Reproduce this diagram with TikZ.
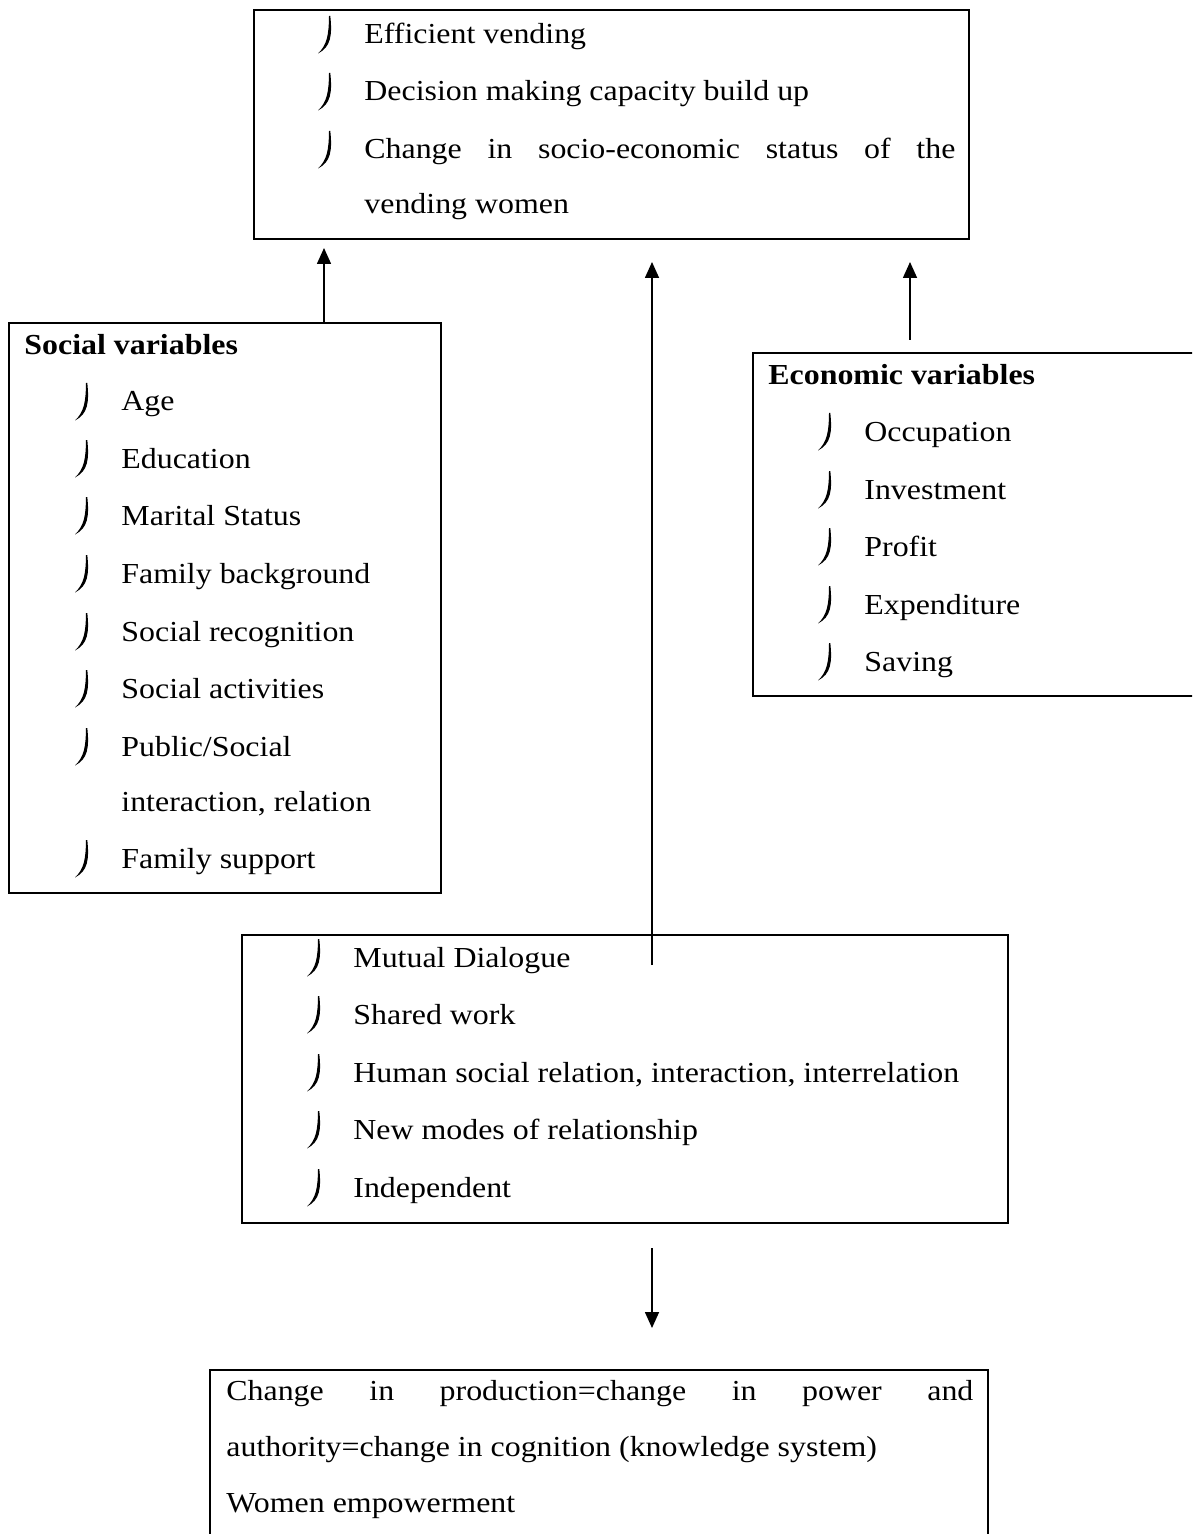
\documentclass[tikz,border=0pt]{standalone}
\usepackage{fontspec}
\setmainfont{Liberation Serif}[FakeStretch=1.1]
\usetikzlibrary{arrows.meta,fit}
\begin{document}
\begin{tikzpicture}[x=0.5pt,y=-0.5pt,
  box/.style={draw,line width=0.8pt,inner sep=0pt,outer sep=0pt,rectangle},
  txt/.style={anchor=base west,inner sep=0pt,yshift=-1pt,font=\fontsize{14.5pt}{17pt}\selectfont},
  hd/.style={anchor=base west,inner sep=0pt,yshift=-1pt,font=\fontsize{14.5pt}{17pt}\selectfont\bfseries},
  arr/.style={line width=0.8pt,-{Triangle[length=8pt,width=7pt]}},
  jbul/.pic={\fill (5,-19) -- (6.3,-19) .. controls (8.3,0) and (7,12) .. (-6,18.5)
     .. controls (3,10) and (4.8,0) .. (5,-19) -- cycle;}
]
\useasboundingbox (0,0) rectangle (1192,1534);
\clip (0,0) rectangle (1192,1534);

% boxes
\node[box,fit={(254,10) (969,239)}] (top) {};
\node[box,fit={(9,323) (441,893)}] (social) {};
\node[box,fit={(753,353) (1220,696)}] (econ) {};
\node[box,fit={(242,935) (1008,1223)}] (mid) {};
\node[box,fit={(210,1370) (988,1560)}] (bottom) {};

% top box text
\foreach \y/\t [count=\i] in {42/Efficient vending,99/Decision making capacity build up}{
  \pic at (324,\y-7) {jbul};
  \node[txt] (t\i) at (364,\y) {\t};
}
\pic at (324,150) {jbul};
\node[txt] (t3) at (364,157) {\makebox[295.5pt][s]{Change in socio-economic status of the}};
\node[txt] (t4) at (364,212) {vending women};

% social box
\node[hd] (sh) at (24,353) {Social variables};
\foreach \y/\t [count=\i] in {409/Age,466/Education,523/Marital Status,581/Family background,639/Social recognition,696/Social activities,754/{Public/Social},866/Family support}{
  \pic at (81,\y-7) {jbul};
  \node[txt] (s\i) at (121,\y) {\t};
}
\node[txt] (s9) at (121,809) {interaction, relation};

% economic box
\node[hd] (eh) at (768,383) {Economic variables};
\foreach \y/\t [count=\i] in {439/Occupation,497/Investment,554/Profit,612/Expenditure,669/Saving}{
  \pic at (824,\y-7) {jbul};
  \node[txt] (e\i) at (864,\y) {\t};
}

% middle box
\foreach \y/\t [count=\i] in {965/Mutual Dialogue,1022/Shared work,1080/{Human social relation, interaction, interrelation},1137/New modes of relationship,1195/Independent}{
  \pic at (313,\y-7) {jbul};
  \node[txt] (m\i) at (353,\y) {\t};
}

% bottom box
\node[txt] (b1) at (226,1398) {\makebox[373.5pt][s]{Change in production=change in power and}};
\node[txt] (b2) at (226,1454) {authority=change in cognition (knowledge system)};
\node[txt] (b3) at (226,1510) {Women empowerment};

% connectors
\coordinate (a1) at (324,248);
\draw[arr] (social.north -| a1) -- (a1);
\coordinate (m0) at (652,965);
\coordinate (m1) at (652,262);
\draw[arr] (m0) -- (m1);
\coordinate (r0) at (910,340);
\coordinate (r1) at (910,262);
\draw[arr] (r0) -- (r1);
\coordinate (d0) at (652,1248);
\coordinate (d1) at (652,1328);
\draw[arr] (d0) -- (d1);
\end{tikzpicture}
\end{document}
